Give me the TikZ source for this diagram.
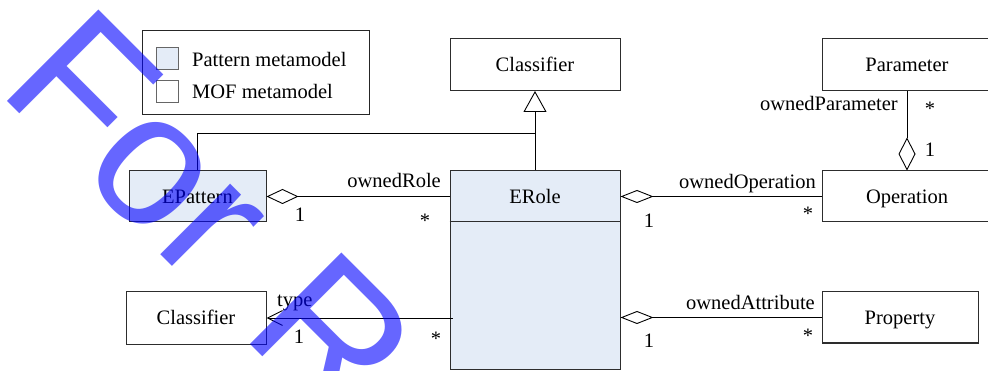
\documentclass[tikz,border=0pt]{standalone}
\usepackage{fontspec}
\setmainfont{Liberation Serif}
\newfontfamily\wmfont{Liberation Sans}
\usetikzlibrary{arrows.meta,calc}
\definecolor{patfill}{RGB}{228,236,247}
\definecolor{edgec}{RGB}{45,45,45}
\definecolor{wmblue}{RGB}{0,0,255}
\begin{document}
\begin{tikzpicture}[x=1pt,y=-1pt,
  every node/.style={font=\fontsize{20.5}{24}\selectfont},
  cls/.style={draw=edgec, line width=1pt, minimum width=170pt, minimum height=52pt, inner sep=0pt, text height=14pt, text depth=0pt},
  patbox/.style={cls, fill=patfill},
  conn/.style={draw=black, line width=0.9pt},
  lbl/.style={inner sep=0pt},
  swatch/.style={draw=black!60, line width=1pt, minimum width=22pt, minimum height=22pt, inner sep=0pt}]
\clip (0,0) rectangle (988,371);
\fill[white] (0,0) rectangle (988,371);

% legend
\node[draw=black!85, line width=1pt, minimum width=227pt, minimum height=84pt, inner sep=0pt] (legend) at (255.5,73) {};
\node[swatch, fill=patfill] (sw1) at (167,59) {};
\node[swatch, fill=white] (sw2) at (167,91.5) {};
\node[lbl, anchor=base west] (lg1) at (192,67) {Pattern metamodel};
\node[lbl, anchor=base west] (lg2) at (192,99) {MOF metamodel};

% classes
\node[cls] (cls1) at (535,64.5) {Classifier};
\node[cls] (param) at (907,64.5) {Parameter};
\node[patbox, minimum height=198pt] (erole) at (535,270) {};
\node[lbl] (erolet) at (535,196.5) {\rule{0pt}{14pt}ERole};
\draw[edgec, line width=1pt] ($(erole.north west)+(0,51)$) -- ($(erole.north east)+(0,51)$);
\node[cls, minimum height=51pt] (op) at (907,196.5) {Operation};
\node[cls, minimum width=156pt, minimum height=51pt] (prop) at (900,317.5) {Property};
\node[patbox, minimum width=137pt, minimum height=51pt] (epat) at (197.5,196.5) {EPattern};
\node[cls, minimum width=140pt, minimum height=52pt] (cls2) at (196,318) {Classifier};

% connectors
\coordinate (gj) at ($(erole.north)+(0,-37)$);
\draw[conn, -{Triangle[open,length=21pt,width=23pt]}] (erole.north) -- (cls1.south);
\draw[conn] (epat.north) |- (gj);
\draw[conn, {Diamond[open,length=32pt,width=15pt]}-] (epat.east) -- (epat.east -| erole.west);
\draw[conn, {Diamond[open,length=33pt,width=13pt]}-] (erole.east |- op.west) -- (op.west);
\draw[conn, {Diamond[open,length=33pt,width=13pt]}-] (erole.east |- prop.west) -- (prop.west);
\draw[conn, -{Diamond[open,length=33pt,width=17pt]}] (param.south) -- (op.north);
\coordinate (tend) at ($(cls2.east -| erole.west)+(3,0)$);
\draw[conn, {Straight Barb[length=15pt,width=15pt]}-] (cls2.east) -- (tend);

% role names
\node[lbl, anchor=base east] (l1) at (441,188) {ownedRole};
\node[lbl, anchor=base east] (l2) at (816,189) {ownedOperation};
\node[lbl, anchor=base east] (l3) at (815,310) {ownedAttribute};
\node[lbl, anchor=base east] (l4) at (898,111) {ownedParameter};
\node[lbl, anchor=base west] (l5) at (277,307) {type};

% multiplicities
\node[lbl, anchor=base] (m1) at (300,222) {1};
\node[lbl, anchor=base] (m2) at (425,227.5) {*};
\node[lbl, anchor=base] (m3) at (649,228) {1};
\node[lbl, anchor=base] (m4) at (808,221) {*};
\node[lbl, anchor=base] (m5) at (649,348) {1};
\node[lbl, anchor=base] (m6) at (808,342.5) {*};
\node[lbl, anchor=base] (m7) at (299,343) {1};
\node[lbl, anchor=base] (m8) at (436,345.5) {*};
\node[lbl, anchor=base] (m9) at (930,115.5) {*};
\node[lbl, anchor=base] (m10) at (930,157) {1};

% watermark
\node[font=\wmfont\fontsize{188}{188}\selectfont, text=wmblue, text opacity=0.6, rotate=-45, anchor=base west, inner sep=0pt] (wm) at (-3.8,90.2) {For\hspace{10pt} R};
\end{tikzpicture}
\end{document}
